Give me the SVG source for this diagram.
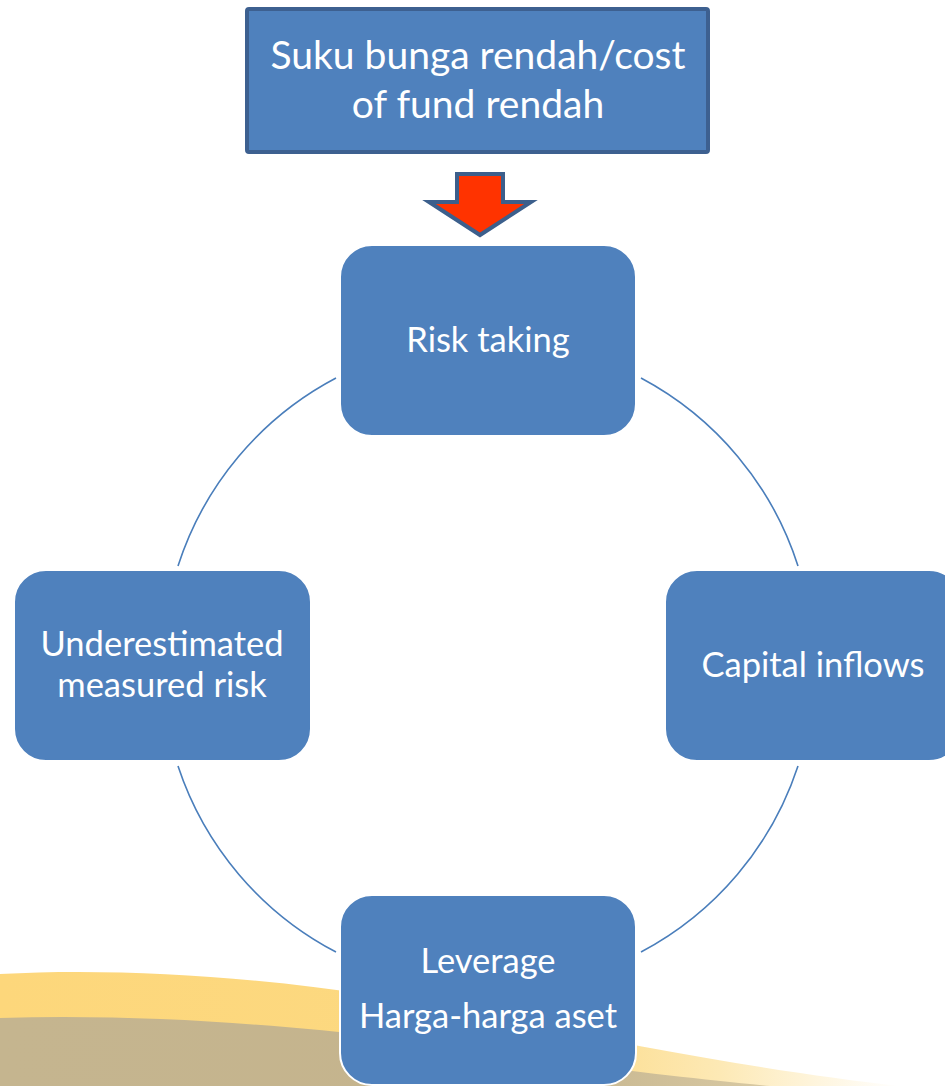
<svg xmlns="http://www.w3.org/2000/svg" width="945" height="1086" viewBox="0 0 945 1086">
<defs>
<linearGradient id="yel" x1="0" y1="0" x2="1" y2="0">
<stop offset="0" stop-color="#fdd77b"/>
<stop offset="0.6" stop-color="#fcd982"/>
<stop offset="0.8" stop-color="#fde9b5"/>
<stop offset="1" stop-color="#ffffff"/>
</linearGradient>
<linearGradient id="tan" x1="0" y1="0" x2="1" y2="0">
<stop offset="0" stop-color="#c5b58f"/>
<stop offset="0.7" stop-color="#c5b48d"/>
<stop offset="1" stop-color="#d8c9a3"/>
</linearGradient>
<style>
.node{fill:#4f81bd;stroke:#ffffff;stroke-width:2}
.lbl{font-family:Lato,"Open Sans",sans-serif;fill:#ffffff;text-anchor:middle}
.arc{fill:none;stroke:#4a7ebb;stroke-width:1.6}
</style>
</defs>
<rect width="945" height="1086" fill="#ffffff"/>
<g id="background">
<path d="M0,974 C150,966 330,982 500,1018 C650,1050 790,1074 900,1086 L0,1086 Z" fill="url(#yel)"/>
<path d="M0,1018 C200,1012 400,1036 550,1060 C640,1073 710,1080 770,1086 L0,1086 Z" fill="url(#tan)"/>
</g>
<g id="connectors">
<path class="arc" d="M336,378 A325,325 0 0 0 178,566"/>
<path class="arc" d="M641,378 A325,325 0 0 1 798,566"/>
<path class="arc" d="M178,766 A325,325 0 0 0 336,952"/>
<path class="arc" d="M798,766 A325,325 0 0 1 641,952"/>
<path id="arrow" d="M457,174 L503,174 L503,202 L531,202 L480,235 L429,202 L457,202 Z" fill="#ff3300" stroke="#3c5f8c" stroke-width="4" stroke-linejoin="miter"/>
</g>
<g id="source">
<rect x="247" y="9" width="461" height="143" rx="2" fill="#4f81bd" stroke="#3d6090" stroke-width="4"/>
<text class="lbl" x="478" y="69" font-size="39">Suku bunga rendah/cost</text>
<text class="lbl" x="478" y="118" font-size="39">of fund rendah</text>
</g>
<g id="risk-taking">
<rect class="node" x="340" y="245" width="296" height="191" rx="32"/>
<text class="lbl" x="488" y="352" font-size="34.5">Risk taking</text>
</g>
<g id="capital-inflows">
<rect class="node" x="665" y="570" width="296" height="191" rx="32"/>
<text class="lbl" x="813" y="677" font-size="34.5">Capital inflows</text>
</g>
<g id="leverage">
<rect class="node" x="340" y="895" width="296" height="190" rx="32"/>
<text class="lbl" x="488" y="973" font-size="34.5">Leverage</text>
<text class="lbl" x="488" y="1028" font-size="34.5">Harga-harga aset</text>
</g>
<g id="underestimated">
<rect class="node" x="14" y="570" width="297" height="191" rx="32"/>
<text class="lbl" x="162" y="656" font-size="34.5">Underestimated</text>
<text class="lbl" x="162" y="697" font-size="34.5">measured risk</text>
</g>
</svg>
